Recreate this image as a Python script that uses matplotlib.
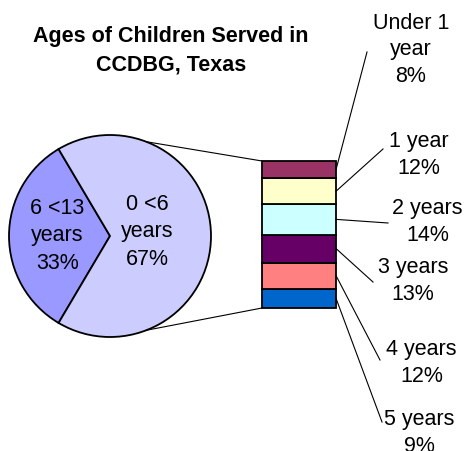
import numpy as np
import matplotlib.pyplot as plt

plt.rcParams['font.family'] = ['Liberation Sans', 'DejaVu Sans']

# pie data
pie_labels = ['6 <13\nyears', '0 <6\nyears']
pie_values = [33, 67]
pie_colors = ['#9999FF', '#CCCCFF']

# breakdown of 0 <6 (bottom to top)
bar_labels = ['5 years', '4 years', '3 years', '2 years', '1 year', 'Under 1\nyear']
bar_values = [9, 12, 13, 14, 12, 8]
bar_colors = ['#0066CC', '#FF8080', '#660066', '#CCFFFF', '#FFFFCC', '#993366']

H = 452
fig = plt.figure(figsize=(4.67, 4.52), dpi=100)
ax = fig.add_axes([0, 0, 1, 1])

# pie
cx, cy, r = 110, H - 237, 101
wedges, _ = ax.pie(pie_values, colors=pie_colors, startangle=180 - pie_values[0] * 1.8,
                   center=(cx, cy), radius=r,
                   wedgeprops=dict(edgecolor='black', linewidth=1.3))
ax.set_xlim(0, 467)
ax.set_ylim(0, H)
ax.set_aspect('equal')
ax.axis('off')

pie_pos = [(57.5, H - 236), (147.5, H - 232)]
for lab, v, (x, y) in zip(pie_labels, pie_values, pie_pos):
    ax.text(x, y, '%s\n%d%%' % (lab, v), ha='center', va='center',
            fontsize=15.5, linespacing=1.38)

# stacked bar
bx, bw, bbot, bh = 299, 74, H - 309, 147
scale = bh / sum(bar_values)
bottoms = bbot + np.concatenate([[0], np.cumsum(bar_values)[:-1]]) * scale
heights = np.array(bar_values) * scale
ax.bar(bx, heights, width=bw, bottom=bottoms, color=bar_colors,
       edgecolor='black', linewidth=1.3)

# connector lines pie -> bar
a = np.deg2rad(69)
ax.plot([cx + r * np.cos(a), bx - bw / 2], [cy + r * np.sin(a), bbot + bh],
        color='black', lw=0.8)
ax.plot([cx + r * np.cos(a), bx - bw / 2], [cy - r * np.sin(a), bbot],
        color='black', lw=0.8)

# labels with leader lines
lab_pos = [(419, 433), (421.5, 363), (413, 281), (427.5, 222), (418.5, 155), (411, 50)]
lead_end = [(382, 423), (380, 361), (373, 283), (388, 224), (383, 150), (367, 53)]
for i, (lab, v) in enumerate(zip(bar_labels, bar_values)):
    ym = bottoms[i] + heights[i] / 2
    ex, ey = lead_end[i]
    ax.plot([bx + bw / 2, ex], [ym, H - ey], color='black', lw=0.8)
    tx, ty = lab_pos[i]
    ax.text(tx, H - ty, '%s\n%d%%' % (lab, v), ha='center', va='center',
            fontsize=15.5, linespacing=1.33)

ax.text(171, H - 50.5, 'Ages of Children Served in\nCCDBG, Texas', ha='center',
        va='center', fontsize=15.5, fontweight='bold', linespacing=1.45)

fig.savefig('out.png', dpi=100)
